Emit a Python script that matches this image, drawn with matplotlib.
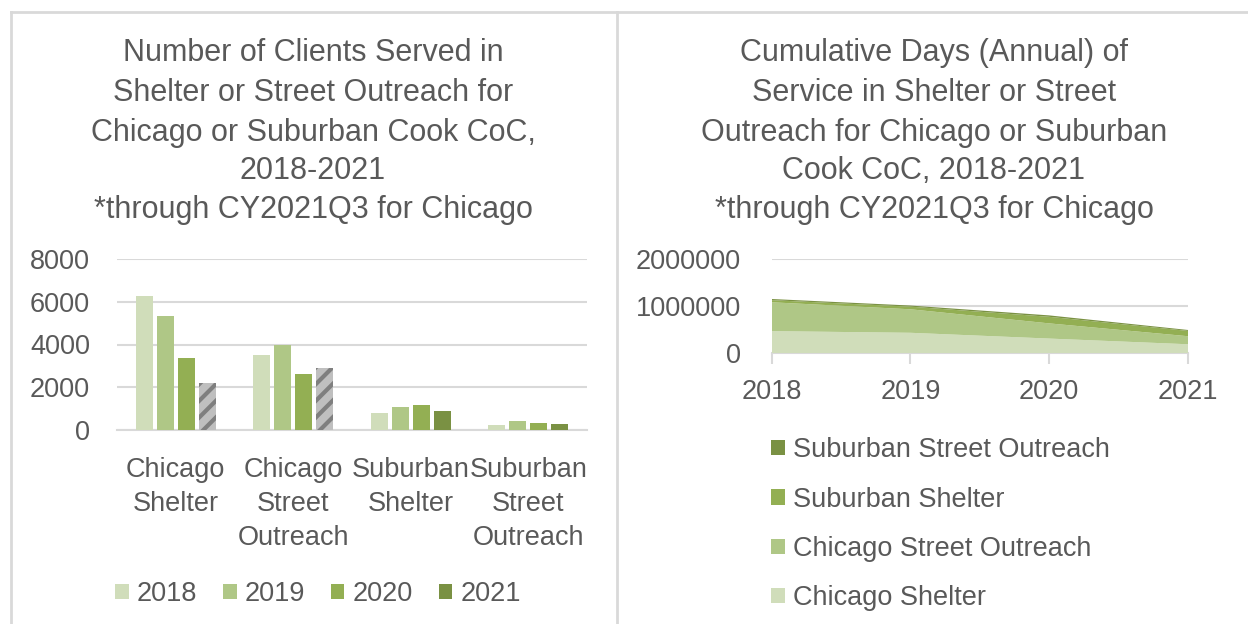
import matplotlib
matplotlib.use('Agg')
import matplotlib.pyplot as plt
from matplotlib.patches import Patch
from matplotlib.lines import Line2D
import numpy as np

plt.rcParams['font.family'] = ['Liberation Sans', 'DejaVu Sans']
plt.rcParams['hatch.linewidth'] = 3.0
plt.rcParams['hatch.color'] = '#7F7F7F'

TXT = '#595959'
GRID = '#D9D9D9'

# Left chart: clients served
categories = ['Chicago\nShelter', 'Chicago\nStreet\nOutreach', 'Suburban\nShelter', 'Suburban\nStreet\nOutreach']
years = ['2018', '2019', '2020', '2021']
clients = {
    '2018': [6280, 3530, 800, 235],
    '2019': [5310, 4000, 1095, 405],
    '2020': [3360, 2625, 1170, 345],
    '2021': [2190, 2905, 905, 280],
}
year_colors = ['#D0DDBA', '#AFC786', '#93AF53', '#7A9143']
# 2021 Chicago numbers are partial (through Q3), shown hatched
partial_2021 = [True, True, False, False]

# Right chart: cumulative days of service
area_years = [2018, 2019, 2020, 2021]
chicago_shelter = [465000, 430000, 307000, 186000]
chicago_outreach = [614000, 500000, 323000, 171000]
suburban_shelter = [45000, 56000, 140000, 113000]
suburban_outreach = [25000, 24000, 30000, 20000]
area_labels = ['Chicago Shelter', 'Chicago Street Outreach', 'Suburban Shelter', 'Suburban Street Outreach']

fig = plt.figure(figsize=(12.48, 6.24), dpi=100)
W, H = 1248.0, 624.0

# frame lines round the two panels
for xs, ys in [([11, 11], [0, 612]), ([11, 1248], [612, 612]), ([617, 617], [0, 612])]:
    fig.add_artist(Line2D([x / W for x in xs], [y / H for y in ys], color=GRID, lw=2,
                          transform=fig.transFigure))

left_title = ['Number of Clients Served in', 'Shelter or Street Outreach for',
              'Chicago or Suburban Cook CoC,', '2018-2021', '*through CY2021Q3 for Chicago']
right_title = ['Cumulative Days (Annual) of', 'Service in Shelter or Street',
               'Outreach for Chicago or Suburban', 'Cook CoC, 2018-2021', '*through CY2021Q3 for Chicago']
title_y = [53, 93, 133, 171, 210]
for i, yy in enumerate(title_y):
    fig.text(313 / W, 1 - yy / H, left_title[i], ha='center', va='center', fontsize=22, color=TXT)
    fig.text(934 / W, 1 - yy / H, right_title[i], ha='center', va='center', fontsize=22, color=TXT)

# ---- left: grouped bars
ax1 = fig.add_axes([117 / W, 1 - 430 / H, 470 / W, 171 / H])
x = np.arange(len(categories))
slot = 0.18
for i, yr in enumerate(years):
    for j in range(len(categories)):
        hatched = yr == '2021' and partial_2021[j]
        ax1.bar(x[j] + (i - 1.5) * slot, clients[yr][j], width=0.145,
                color='#BFBFBF' if hatched else year_colors[i],
                hatch='//' if hatched else None, linewidth=0, zorder=3)
ax1.set_xlim(-0.5, 3.5)
ax1.set_ylim(0, 8000)
ax1.set_yticks([0, 2000, 4000, 6000, 8000])
ax1.set_xticks(x)
ax1.set_xticklabels(categories, linespacing=1.4)
ax1.yaxis.grid(True, color=GRID, lw=1.5, zorder=0)
ax1.set_axisbelow(True)
for s in ['top', 'right', 'left']:
    ax1.spines[s].set_visible(False)
ax1.spines['bottom'].set_color(GRID)
ax1.spines['bottom'].set_linewidth(1.5)
ax1.tick_params(axis='both', length=0, labelsize=19.5, labelcolor=TXT)
ax1.tick_params(axis='y', pad=19.5)
ax1.tick_params(axis='x', pad=19.5)

handles = [Patch(facecolor=c, edgecolor='none') for c in year_colors]
fig.legend(handles, years, loc='center', bbox_to_anchor=(318 / W, 1 - 594 / H), ncol=4,
           frameon=False, fontsize=19.5, labelcolor=TXT, handlelength=0.5, handleheight=0.5,
           handletextpad=0.3, columnspacing=0.95)

# ---- right: stacked area
ax2 = fig.add_axes([771.7 / W, 1 - 353 / H, 416.3 / W, 94 / H])
colors_area = ['#D0DDBA', '#AFC786', '#93AF53', '#7A9143']
ax2.stackplot(range(len(area_years)), chicago_shelter, chicago_outreach, suburban_shelter,
              suburban_outreach, colors=colors_area, labels=area_labels, zorder=3)
ax2.set_xlim(0, 3)
ax2.set_ylim(0, 2000000)
ax2.set_yticks([0, 1000000, 2000000])
ax2.set_yticklabels(['0', '1000000', '2000000'])
ax2.set_xticks(range(len(area_years)))
ax2.set_xticklabels([str(y) for y in area_years])
ax2.yaxis.grid(True, color=GRID, lw=1.5, zorder=0)
ax2.set_axisbelow(True)
for s in ['top', 'right', 'left']:
    ax2.spines[s].set_visible(False)
ax2.spines['bottom'].set_color(GRID)
ax2.spines['bottom'].set_linewidth(1.5)
ax2.tick_params(axis='y', length=0, labelsize=19.5, labelcolor=TXT, pad=22)
ax2.tick_params(axis='x', length=8, width=1.5, color=GRID, direction='out',
                labelsize=19.5, labelcolor=TXT, pad=11)

h2 = [Patch(facecolor=c, edgecolor='none') for c in colors_area][::-1]
fig.legend(h2, area_labels[::-1], loc='upper left', bbox_to_anchor=(747 / W, 1 - 413 / H),
           frameon=False, fontsize=19.5, labelcolor=TXT, handlelength=0.5, handleheight=0.5,
           handletextpad=0.3, labelspacing=0.86)

plt.savefig('out.png', dpi=100)
